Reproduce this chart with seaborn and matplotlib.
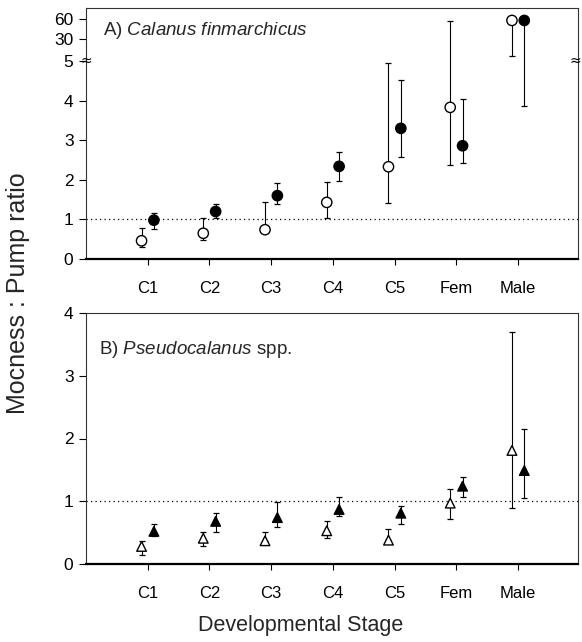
import numpy as np
import pandas as pd
import matplotlib
matplotlib.use("Agg")
import matplotlib.pyplot as plt
import seaborn as sns

# ---------------- data ----------------
stages = ["C1", "C2", "C3", "C4", "C5", "Fem", "Male"]

# Panel A: Calanus finmarchicus (open = circles, filled = circles)
cal_open = [0.46, 0.65, 0.74, 1.43, 2.33, 3.83, 58]
cal_open_lo = [0.30, 0.48, 0.74, 1.03, 1.41, 2.37, 11]
cal_open_hi = [0.78, 1.04, 1.43, 1.95, 4.96, 57, 58]
cal_fill = [0.98, 1.20, 1.60, 2.34, 3.30, 2.86, 58]
cal_fill_lo = [0.76, 1.03, 1.40, 1.96, 2.58, 2.42, 3.87]
cal_fill_hi = [1.17, 1.40, 1.93, 2.71, 4.52, 4.03, 58]

# Panel B: Pseudocalanus spp. (triangles)
pse_open = [0.28, 0.41, 0.37, 0.53, 0.38, 0.97, 1.81]
pse_open_lo = [0.15, 0.28, 0.37, 0.41, 0.38, 0.71, 0.90]
pse_open_hi = [0.37, 0.51, 0.51, 0.68, 0.55, 1.19, 3.70]
pse_fill = [0.52, 0.68, 0.74, 0.87, 0.81, 1.24, 1.49]
pse_fill_lo = [0.44, 0.51, 0.59, 0.77, 0.64, 1.06, 1.05]
pse_fill_hi = [0.63, 0.82, 0.99, 1.06, 0.93, 1.38, 2.15]

top_yticks = [0, 1, 2, 3, 4, 5, 30, 60]
bot_yticks = [0, 1, 2, 3, 4]

# ---------------- style ----------------
sns.set_style("white")
plt.rcParams["font.family"] = ["Liberation Sans", "DejaVu Sans"]
plt.rcParams["mathtext.fontset"] = "custom"
plt.rcParams["mathtext.rm"] = "Liberation Sans"
plt.rcParams["mathtext.it"] = "Liberation Sans:italic"

W, H = 582, 642
fig = plt.figure(figsize=(W / 100, H / 100), dpi=100)
L, R = 86 / W, 578 / W
axA = fig.add_axes([L, 1 - 259 / H, R - L, (259 - 8) / H])
axB = fig.add_axes([L, 1 - 564 / H, R - L, (564 - 313) / H])

OFF = 0.1


def fwd(v):
    v = np.asarray(v, dtype=float)
    return np.where(v <= 5, v,
                    np.where(v <= 30, 5 + (v - 5) * 0.55 / 25,
                             5.55 + (v - 30) * 0.51 / 30))


def inv(t):
    t = np.asarray(t, dtype=float)
    return np.where(t <= 5, t,
                    np.where(t <= 5.55, 5 + (t - 5) * 25 / 0.55,
                             30 + (t - 5.55) * 30 / 0.51))


def make_df(o, olo, ohi, f, flo, fhi):
    idx = np.arange(len(stages))
    d1 = pd.DataFrame({"stage": stages, "group": "open", "x": idx - OFF,
                       "val": o, "lo": olo, "hi": ohi})
    d2 = pd.DataFrame({"stage": stages, "group": "filled", "x": idx + OFF,
                       "val": f, "lo": flo, "hi": fhi})
    return pd.concat([d1, d2], ignore_index=True)


def draw(ax, df, marker, size):
    for _, r in df.iterrows():
        ax.errorbar(r["x"], r["val"],
                    yerr=[[r["val"] - r["lo"]], [r["hi"] - r["val"]]],
                    fmt="none", ecolor="black", elinewidth=0.8,
                    capsize=2.5, capthick=0.9, zorder=2)
    sns.scatterplot(data=df, x="x", y="val", hue="group",
                    palette={"open": "white", "filled": "black"},
                    marker=marker, s=size, edgecolor="black", linewidth=1.0,
                    legend=False, ax=ax, zorder=3)
    ax.axhline(1, ls=(0, (1, 2.6)), lw=0.9, color="black", zorder=1)
    ax.set_xlim(-1, 6.97)
    ax.set_xticks(range(len(stages)))
    ax.set_xticklabels(stages, fontsize=12)
    ax.set_xlabel("")
    ax.set_ylabel("")
    ax.tick_params(axis="x", direction="out", length=4, width=0.8, pad=12,
                   bottom=True, colors="black")
    ax.tick_params(axis="y", direction="out", length=5, width=0.8, pad=4,
                   left=True, labelsize=12.5, colors="black")
    for s in ["top", "right", "left"]:
        ax.spines[s].set_linewidth(0.8)
        ax.spines[s].set_color("#333333")
    ax.spines["bottom"].set_linewidth(1.6)
    ax.spines["bottom"].set_color("black")


dfA = make_df(cal_open, cal_open_lo, cal_open_hi, cal_fill, cal_fill_lo, cal_fill_hi)
dfB = make_df(pse_open, pse_open_lo, pse_open_hi, pse_fill, pse_fill_lo, pse_fill_hi)

axA.set_yscale("function", functions=(fwd, inv))
draw(axA, dfA, "o", 55)
axA.set_ylim(0, float(inv(6.34)))
axA.set_yticks(top_yticks)
axA.set_yticklabels([str(t) for t in top_yticks])
axA.minorticks_off()

draw(axB, dfB, "^", 48)
axB.set_ylim(0, 4)
axB.set_yticks(bot_yticks)
axB.set_yticklabels([str(t) for t in bot_yticks])

# axis break marks at 5
for xpos in (0, 0.994):
    axA.text(xpos, 5, "\u2248", transform=axA.get_yaxis_transform(),
             ha="center", va="center", fontsize=10, color="black",
             family="DejaVu Sans", zorder=5, clip_on=False)

axA.text(0.035, 0.912, r"A) $\mathit{Calanus\ finmarchicus}$",
         transform=axA.transAxes, fontsize=13.5, va="center", ha="left")
axB.text(0.026, 0.853, r"B) $\mathit{Pseudocalanus}$ spp.",
         transform=axB.transAxes, fontsize=13.5, va="center", ha="left")

fig.text(0.031, 1 - 293 / H, "Mocness : Pump ratio", rotation=90,
         ha="center", va="center", fontsize=18)
fig.text(301 / W, 1 - 626 / H, "Developmental Stage",
         ha="center", va="center", fontsize=15.5)

fig.savefig("out.png", dpi=100)
